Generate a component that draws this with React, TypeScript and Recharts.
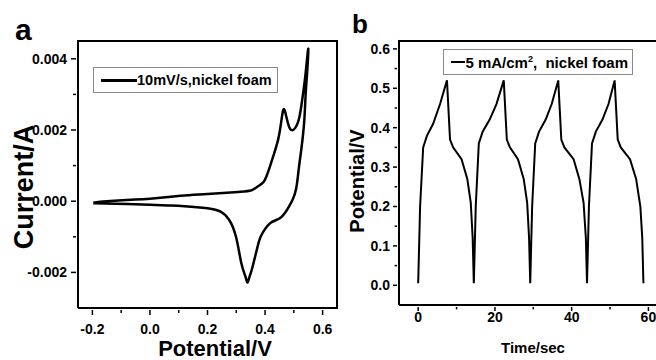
import React from "react"
import { LineChart, Line, XAxis, YAxis, Legend } from "recharts"

// panel a: cyclic voltammogram, 10 mV/s
const cvPotential = [
  -0.197, -0.15, -0.067, 0.0, 0.107, 0.2, 0.306, 0.351, 0.372, 0.393, 0.404, 0.414, 0.43, 0.446, 0.456, 0.463,
  0.47, 0.48, 0.491, 0.505, 0.519, 0.53, 0.541, 0.55,
  0.547, 0.541, 0.536, 0.526, 0.517, 0.508, 0.496, 0.484, 0.456, 0.421, 0.393, 0.38, 0.369, 0.358, 0.351,
  0.343, 0.338, 0.331, 0.317, 0.299, 0.275, 0.247, 0.2, 0.12, 0.062, 0.0, -0.078, -0.197,
]
const cvCurrent = [
  -0.00004, 0.0, 0.00004, 0.00007, 0.00015, 0.0002, 0.00026, 0.0003, 0.0004, 0.00052, 0.00068, 0.0009, 0.0013,
  0.00175, 0.00222, 0.00256, 0.0025, 0.00218, 0.002, 0.00206, 0.00235, 0.0029, 0.0036, 0.00428,
  0.0037, 0.003, 0.00223, 0.00146, 0.0009, 0.00035, 0.00005, -0.00014, -0.00045, -0.0006, -0.00087, -0.0011,
  -0.00144, -0.0018, -0.002, -0.0022, -0.00228, -0.0021, -0.00172, -0.001, -0.00052, -0.0003, -0.0002,
  -0.00014, -0.00012, -0.0001, -0.00008, -0.00006,
]

// panel b: galvanostatic charge/discharge, 5 mA/cm2
const gcdTime = [
  0, 0.5, 1.3, 2.3, 3.9, 5.7, 7.5, 8.3, 9.1, 11.3, 12.8, 13.7, 14.2, 14.5,
  15.0, 15.8, 16.8, 18.6, 20.4, 22.3, 23.1, 23.9, 26.0, 27.5, 28.4, 28.9, 29.2,
  29.7, 30.5, 31.5, 33.2, 34.8, 36.5, 37.3, 38.1, 40.5, 42.0, 43.1, 43.7, 44.0,
  44.5, 45.3, 46.3, 48.0, 49.6, 51.2, 52.0, 52.8, 55.2, 56.8, 57.9, 58.4, 58.7,
]
const gcdPotential = [
  0.005, 0.2, 0.35, 0.38, 0.41, 0.46, 0.52, 0.37, 0.35, 0.32, 0.27, 0.21, 0.12, 0.005,
  0.2, 0.36, 0.39, 0.42, 0.46, 0.52, 0.37, 0.35, 0.32, 0.27, 0.21, 0.12, 0.005,
  0.2, 0.36, 0.39, 0.42, 0.46, 0.52, 0.37, 0.35, 0.32, 0.27, 0.21, 0.12, 0.005,
  0.2, 0.36, 0.39, 0.42, 0.46, 0.52, 0.37, 0.35, 0.32, 0.27, 0.2, 0.12, 0.005,
]

const cvXDomain = [-0.25, 0.65]
const cvYDomain = [-0.003, 0.0045]
const cvXTicks = [-0.2, 0.0, 0.2, 0.4, 0.6]
const cvXMinor = [-0.1, 0.1, 0.3, 0.5]
const cvYTicks = [-0.002, 0.0, 0.002, 0.004]
const cvYMinor = [-0.001, 0.001, 0.003]
const gcdXDomain = [-5, 62.5]
const gcdYDomain = [-0.05, 0.62]
const gcdXTicks = [0, 20, 40, 60]
const gcdXMinor = [10, 30, 50]
const gcdYTicks = [0.0, 0.1, 0.2, 0.3, 0.4, 0.5, 0.6]
const gcdYMinor = [0.05, 0.15, 0.25, 0.35, 0.45, 0.55]

const cvData = cvPotential.map((v, i) => ({ v, i: cvCurrent[i] }))
const gcdData = gcdTime.map((t, i) => ({ t, v: gcdPotential[i] }))

const FONT = "'Liberation Sans', Arial, Helvetica, sans-serif"

function AxisTick(props: any) {
  const { x, y, payload, side, minor, len, gap, fmt } = props
  const isMinor = minor.includes(payload.value)
  const l = isMinor ? len * 0.6 : len
  const textStyle = { fontFamily: FONT, fontSize: 14, fontWeight: 700, fill: "#000" }
  if (side === "bottom") {
    return (
      <g>
        <line x1={x} y1={y} x2={x} y2={y + l} stroke="#000" strokeWidth={1.5} />
        {!isMinor && (
          <text x={x} y={y + gap} textAnchor="middle" style={textStyle}>
            {fmt(payload.value)}
          </text>
        )}
      </g>
    )
  }
  return (
    <g>
      <line x1={x} y1={y} x2={x - l} y2={y} stroke="#000" strokeWidth={1.5} />
      {!isMinor && (
        <text x={x - gap} y={y + 5} textAnchor="end" style={textStyle}>
          {fmt(payload.value)}
        </text>
      )}
    </g>
  )
}

function LegendBox({ text, lineWidth, lineLen, width, fontSize }: any) {
  return (
    <div
      style={{
        display: "flex",
        alignItems: "center",
        border: "1px solid #8a8a8a",
        width,
        height: 26,
        boxSizing: "border-box",
        padding: "0 4px 0 7px",
        fontFamily: FONT,
        fontWeight: 700,
        fontSize,
        color: "#000",
        whiteSpace: "nowrap",
      }}
    >
      <span style={{ display: "inline-block", width: lineLen, height: lineWidth, background: "#000" }} />
      <span>{text}</span>
    </div>
  )
}

const label = (txt: string, x: number, y: number, size: number, rotate = false) => (
  <text
    x={x}
    y={y}
    textAnchor="middle"
    transform={rotate ? `rotate(-90 ${x} ${y})` : undefined}
    style={{ fontFamily: FONT, fontSize: size, fontWeight: 700, fill: "#000" }}
  >
    {txt}
  </text>
)

// x-axis title plus the top/right edges of the plot box, taken from the axis viewBox
const titleWithFrame = (txt: string, x: number, y: number, size: number, rightEdge: boolean) => (p: any) => {
  const vb = p.viewBox || {}
  const left = vb.x
  const right = vb.x + vb.width
  const top = 41
  const bottom = vb.y
  return (
    <g>
      {label(txt, x, y, size)}
      <line x1={left - 1} y1={top} x2={right + 1} y2={top} stroke="#000" strokeWidth={2} />
      {rightEdge && <line x1={right} y1={top} x2={right} y2={bottom + 1} stroke="#000" strokeWidth={2} />}
    </g>
  )
}

const axisStroke = { stroke: "#000", strokeWidth: 2 }

export default function App() {
  return (
    <div style={{ position: "absolute", left: 0, top: 0, width: 656, height: 360, overflow: "hidden", background: "#fff" }}>
      <div style={{ position: "absolute", left: 15, top: 8, fontFamily: FONT, fontWeight: 700, fontSize: 30, lineHeight: "44px" }}>a</div>
      <div style={{ position: "absolute", left: 352, top: 5, fontFamily: FONT, fontWeight: 700, fontSize: 26, lineHeight: "38px" }}>b</div>

      <div style={{ position: "absolute", left: 0, top: 0 }}>
        <LineChart width={340} height={360} data={cvData} margin={{ top: 41, right: 3, bottom: 0, left: 0 }}>
          <XAxis
            dataKey="v"
            type="number"
            domain={cvXDomain}
            ticks={[...cvXTicks, ...cvXMinor]}
            interval={0}
            height={52}
            tickSize={0}
            tickLine={false}
            axisLine={axisStroke}
            tick={(p: any) => <AxisTick {...p} side="bottom" minor={cvXMinor} len={5} gap={24} fmt={(v: number) => v.toFixed(1)} />}
            label={titleWithFrame("Potential/V", 215, 356, 22, true)}
          />
          <YAxis
            type="number"
            domain={cvYDomain}
            ticks={[...cvYTicks, ...cvYMinor]}
            interval={0}
            width={78}
            tickSize={0}
            tickLine={false}
            axisLine={axisStroke}
            tick={(p: any) => <AxisTick {...p} side="left" minor={cvYMinor} len={5} gap={9} fmt={(v: number) => v.toFixed(3)} />}
            label={() => label("Current/A", 33, 187, 27, true)}
          />
          <Legend
            layout="horizontal"
            verticalAlign="middle"
            align="center"
            wrapperStyle={{ left: 93, top: 67, width: "auto" }}
            content={() => <LegendBox text="10mV/s,nickel foam" lineWidth={3} lineLen={36} width={185} fontSize={14.5} />}
          />
          <Line
            dataKey="i"
            name="10mV/s,nickel foam"
            type="natural"
            stroke="#000"
            strokeWidth={2.5}
            dot={false}
            isAnimationActive={false}
          />
        </LineChart>
      </div>

      <div style={{ position: "absolute", left: 340, top: 0 }}>
        <LineChart width={318} height={360} data={gcdData} margin={{ top: 41, right: 0, bottom: 0, left: 0 }}>
          <XAxis
            dataKey="t"
            type="number"
            domain={gcdXDomain}
            ticks={[...gcdXTicks, ...gcdXMinor]}
            interval={0}
            height={55}
            tickSize={0}
            tickLine={false}
            axisLine={axisStroke}
            tick={(p: any) => <AxisTick {...p} side="bottom" minor={gcdXMinor} len={4} gap={15} fmt={(v: number) => String(v)} />}
            label={titleWithFrame("Time/sec", 193, 353, 15, false)}
          />
          <YAxis
            type="number"
            domain={gcdYDomain}
            ticks={[...gcdYTicks, ...gcdYMinor]}
            interval={0}
            width={59}
            tickSize={0}
            tickLine={false}
            axisLine={axisStroke}
            tick={(p: any) => <AxisTick {...p} side="left" minor={gcdYMinor} len={4} gap={7} fmt={(v: number) => v.toFixed(1)} />}
            label={() => label("Potential/V", 24, 181, 20, true)}
          />
          <Legend
            layout="horizontal"
            verticalAlign="middle"
            align="center"
            wrapperStyle={{ left: 103, top: 49, width: "auto" }}
            content={() => (
              <LegendBox
                text={
                  <>
                    5 mA/cm<sup style={{ fontSize: 9 }}>2</sup>,&nbsp; nickel foam
                  </>
                }
                lineWidth={1.5}
                lineLen={22}
                width={190}
                fontSize={15}
              />
            )}
          />
          <Line
            dataKey="v"
            name="5 mA/cm2, nickel foam"
            type="linear"
            stroke="#000"
            strokeWidth={2}
            dot={false}
            isAnimationActive={false}
          />
        </LineChart>
      </div>
    </div>
  )
}
